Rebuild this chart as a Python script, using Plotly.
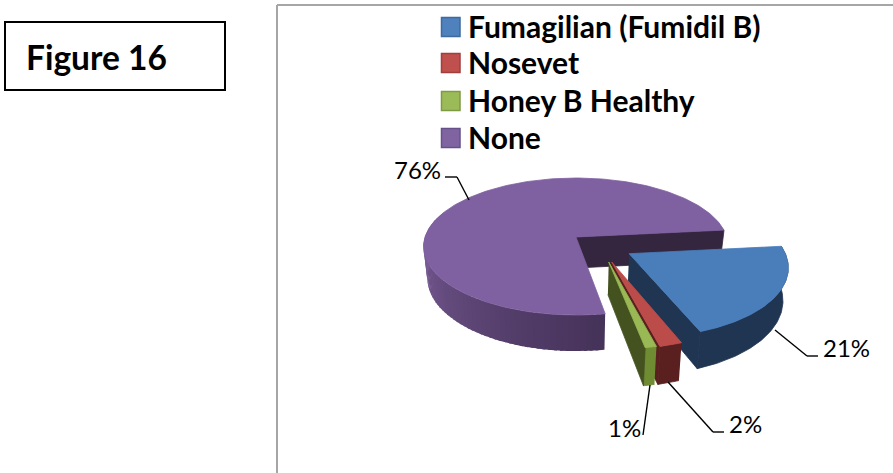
import numpy as np
import plotly.graph_objects as go

# ---- data ----
categories = ["Fumagilian (Fumidil B)", "Nosevet", "Honey B Healthy", "None"]
values = [21, 2, 1, 76]

# ---- styling ----
top_colors = ["#4a7ebb", "#bb4c4a", "#98b954", "#7f60a0"]
side_colors = ["#1f3552", "#5a201f", "#6f8c33", "#46335a"]
wall_colors = ["#1f3552", "#5a201f", "#44521f", "#34263f"]
legend_colors = ["#4f81bd", "#c0504d", "#9bbb59", "#8064a2"]
legend_edges = ["#3f6a9e", "#a03f3c", "#7f9a45", "#66508a"]
legend_rows = [25.5, 61.5, 99.5, 136.5]
explode_uv = [(0.34, 0.24), (0.225, 0.354), (0.206, 0.354), (0.0, 0.0)]
start_angle = -6.0
CX, CY, A, B, K, DEPTH, SHRINK = 576, 237, 151, 67.2, 0.139, 31, 0.975
FONT = "Lato"


def project(u, v, bottom=False):
    w = 1 - K * v
    x = A * u / w
    y = B * v / w
    if bottom:
        return CX + x * SHRINK, CY + y + DEPTH / w
    return CX + x, CY + y


def poly(fig, xs, ys, color, lw=0.8):
    fig.add_trace(go.Scatter(x=list(xs), y=list(ys), mode="lines", fill="toself",
                             fillcolor=color, line=dict(color=color, width=lw),
                             showlegend=False, hoverinfo="skip"))


def rim(t0, t1, off, bottom=False):
    th = np.radians(np.linspace(t0, t1, max(3, int(abs(t1 - t0)) + 2)))
    return project(off[0] + np.cos(th), off[1] + np.sin(th), bottom)


def lerp(c0, c1, f):
    a = [int(c0[i:i + 2], 16) for i in (1, 3, 5)]
    b = [int(c1[i:i + 2], 16) for i in (1, 3, 5)]
    return "rgb(%d,%d,%d)" % tuple(a[i] + (b[i] - a[i]) * f for i in range(3))


fig = go.Figure()
total = sum(values)
spans = []
ang = start_angle
for v in values:
    spans.append((ang, ang + 360.0 * v / total))
    ang += 360.0 * v / total

# painter's order: purple, blue, red, green
for i in [3, 0, 1, 2]:
    t0, t1 = spans[i]
    off = explode_uv[i]
    if i == 3:
        segs = np.arange(t0, 200, 2.0)
        for s in segs:
            f = min(1.0, (s - t0) / (185 - t0))
            x0, y0 = rim(s, s + 3.0, off)
            x1, y1 = rim(s, s + 3.0, off, True)
            poly(fig, np.r_[x0, x1[::-1]], np.r_[y0, y1[::-1]],
                 lerp(side_colors[i], "#7d5f9b", f ** 1.1), 0)
    else:
        x0, y0 = rim(t0, t1, off)
        x1, y1 = rim(t0, t1, off, True)
        poly(fig, np.r_[x0, x1[::-1]], np.r_[y0, y1[::-1]], side_colors[i])
    # visible cut wall
    ex, ey = np.cos(np.radians(t1)), np.sin(np.radians(t1))
    p = [project(off[0], off[1]), project(off[0] + ex, off[1] + ey),
         project(off[0] + ex, off[1] + ey, True), project(off[0], off[1], True)]
    poly(fig, [q[0] for q in p], [q[1] for q in p], wall_colors[i])
    # top face
    rx, ry = rim(t0, t1, off)
    ax, ay = project(off[0], off[1])
    poly(fig, np.r_[ax, rx, ax], np.r_[ay, ry, ay], top_colors[i])

# data labels with leader lines
label_pos = [(846, 347), (745, 423), (624, 427), (417, 169)]
leaders = [
    [(775, 330), (807, 356), (818, 356)],
    [(668, 382), (713, 432), (724, 432)],
    [(650, 385), (643, 435)],
    [(469, 200), (457, 177), (445, 177)],
]
annots = []
shapes = []
for v, (lx, ly), pts in zip(values, label_pos, leaders):
    annots.append(dict(x=lx, y=ly, xref="x", yref="y", text=f"{v}%", showarrow=False,
                       font=dict(family=FONT, size=24, color="#000000")))
    for a, b in zip(pts[:-1], pts[1:]):
        shapes.append(dict(type="line", x0=a[0], y0=a[1], x1=b[0], y1=b[1], xref="x", yref="y",
                           line=dict(color="#000000", width=1.4)))

# legend, placed to follow the reference's row spacing
for name, c, e, row in zip(categories, legend_colors, legend_edges, legend_rows):
    shapes.append(dict(type="rect", x0=441.5, x1=460, y0=row - 8, y1=row + 11, xref="x", yref="y",
                       fillcolor=c, line=dict(color=e, width=1.5)))
    annots.append(dict(x=465.5, y=row, xref="x", yref="y", xanchor="left", text=f"<b>{name}</b>",
                       showarrow=False, font=dict(family=FONT, size=30, color="#000000")))

# chart frame and figure box
shapes += [
    dict(type="line", x0=277, y0=5, x1=277, y1=473, xref="x", yref="y",
         line=dict(color="#a6a6a6", width=2)),
    dict(type="line", x0=277, y0=5, x1=893, y1=5, xref="x", yref="y",
         line=dict(color="#a6a6a6", width=2)),
    dict(type="rect", x0=5, y0=22, x1=225, y1=90, xref="x", yref="y",
         line=dict(color="#000000", width=2)),
]
annots.append(dict(x=96, y=57, xref="x", yref="y", text="<b>Figure 16</b>", showarrow=False,
                   font=dict(family=FONT, size=33.5, color="#000000")))

fig.update_layout(
    width=893, height=473, margin=dict(l=0, r=0, t=0, b=0),
    paper_bgcolor="white", plot_bgcolor="white", showlegend=False,
    xaxis=dict(range=[0, 893], visible=False, fixedrange=True),
    yaxis=dict(range=[473, 0], visible=False, fixedrange=True),
    shapes=shapes, annotations=annots,
)
fig.write_html("out.html", config=dict(displayModeBar=False),
               post_script="document.body.style.margin='0';document.body.style.overflow='hidden';")
